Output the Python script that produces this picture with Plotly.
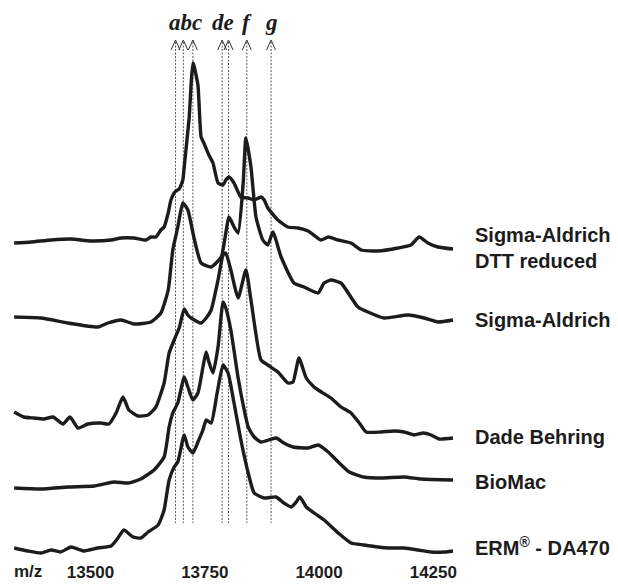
import plotly.graph_objects as go

# ---- data (m/z, relative intensity above each trace's own baseline) ----
mz_dtt = [13333, 13370, 13414, 13457, 13501, 13545, 13567, 13595, 13621, 13632, 13643, 13654, 13661,
          13670, 13676, 13683, 13687, 13694, 13702, 13705, 13711, 13716, 13720, 13724, 13726, 13735,
          13742, 13748, 13759, 13768, 13779, 13790, 13796, 13803, 13814, 13829, 13845, 13858, 13873,
          13880, 13888, 13910, 13932, 13954, 13976, 14004, 14020, 14042, 14070, 14092, 14129, 14173,
          14201, 14219, 14238, 14260, 14293]
int_dtt = [0, 1, 3, 4, 2, 3, 5, 5, 3, 6, 6, 13, 16,
           30, 43, 50, 52, 54, 63, 76, 103, 126, 158, 180, 178, 158,
           106, 100, 88, 80, 60, 58, 63, 66, 60, 46, 45, 43, 46,
           43, 35, 23, 16, 15, 12, 3, 6, 3, 0, -7, -8, -5,
           -2, 6, 0, -4, -6]

mz_sig = [13333, 13392, 13451, 13516, 13538, 13567, 13595, 13632, 13654, 13670, 13680, 13691, 13702,
          13713, 13726, 13742, 13764, 13786, 13803, 13814, 13823, 13834, 13840, 13851, 13862, 13877,
          13888, 13899, 13917, 13945, 13967, 13998, 14011, 14026, 14048, 14085, 14107, 14142, 14195,
          14230, 14260, 14293]
int_sig = [1, 0, -5, -9, -5, -2, -6, -4, 5, 28, 68, 91, 115,
           108, 81, 55, 51, 61, 101, 91, 85, 135, 180, 151, 101, 78,
           73, 86, 61, 35, 31, 25, 35, 38, 35, 11, 6, 0, 3,
           0, -4, -2]

mz_dade = [13333, 13354, 13376, 13398, 13418, 13440, 13455, 13473, 13494, 13523, 13540, 13556, 13571,
           13584, 13604, 13626, 13643, 13661, 13672, 13683, 13694, 13705, 13713, 13720, 13742, 13753,
           13764, 13779, 13790, 13796, 13807, 13823, 13840, 13851, 13873, 13888, 13910, 13932, 13943,
           13956, 13972, 13989, 13998, 14026, 14048, 14070, 14088, 14103, 14136, 14164, 14186, 14208,
           14228, 14245, 14263, 14293]
int_dade = [6, 1, 0, -1, 1, -6, 1, -10, -6, -5, -6, 5, 21,
            8, 2, 3, 11, 35, 65, 78, 90, 109, 103, 100, 95, 100,
            108, 138, 163, 165, 148, 120, 148, 118, 58, 53, 46, 35, 36,
            60, 40, 31, 28, 20, 11, 5, -5, -14, -14, -13, -14, -17,
            -15, -17, -21, -20]

mz_bio = [13333, 13392, 13451, 13508, 13551, 13582, 13610, 13639, 13661, 13672, 13680, 13691, 13705,
          13713, 13724, 13735, 13746, 13753, 13759, 13768, 13779, 13790, 13796, 13807, 13823, 13834,
          13845, 13858, 13873, 13906, 13923, 13943, 13976, 13998, 14020, 14042, 14066, 14098, 14136,
          14186, 14223, 14293]
int_bio = [0, -1, 1, 2, 6, 5, 9, 18, 31, 61, 75, 85, 111,
           101, 88, 95, 121, 136, 126, 115, 141, 186, 180, 158, 110, 83,
           61, 51, 46, 50, 45, 41, 40, 43, 36, 26, 16, 11, 10,
           11, 9, 8]

mz_erm = [13333, 13363, 13392, 13414, 13435, 13457, 13486, 13516, 13545, 13560, 13573, 13593, 13610,
          13626, 13648, 13661, 13672, 13683, 13691, 13705, 13713, 13724, 13735, 13746, 13753, 13764,
          13777, 13790, 13801, 13814, 13829, 13845, 13858, 13880, 13906, 13923, 13939, 13950, 13958,
          13972, 13989, 14011, 14042, 14070, 14098, 14129, 14153, 14186, 14217, 14245, 14274, 14293]
int_erm = [1, -2, -4, -1, -3, 2, -2, 1, 3, 11, 19, 12, 11,
           17, 24, 39, 69, 82, 87, 114, 102, 96, 107, 119, 129, 126,
           156, 184, 176, 146, 109, 76, 56, 51, 52, 46, 42, 47, 52,
           42, 36, 29, 16, 6, 4, 2, 1, 1, -1, -3, -3, -2]

sample_names = ["Sigma-Aldrich<br>DTT reduced", "Sigma-Aldrich", "Dade Behring", "BioMac",
                "ERM<sup>®</sup> - DA470"]
peak_mz = [13686, 13703, 13724, 13788, 13802, 13842, 13895]
peak_groups = ["abc", "de", "f", "g"]
peak_group_mz = [13707, 13790, 13842, 13897]
tick_vals = [13500, 13750, 14000, 14250]
tick_text = ["13500", "13750", "14000", "14250"]
axis_title = "m/z"

# ---- layout constants ----
W, H = 618, 584
MB = 24
offsets = [341, 266, 166, 96, 35]          # vertical stacking of spectra
label_y = [336, 264, 147, 102, 38]
label_x = 14337
XR = [13302, 14654]
YR = [MB, 584]
line_top, line_bot = 542, 61
chev_dx, chev_dy = 9.8, 10
ink = "#1c1c1c"
sans = "Liberation Sans, Arial, sans-serif"
serif = "Liberation Serif, Times New Roman, serif"

series = [(mz_dtt, int_dtt), (mz_sig, int_sig), (mz_dade, int_dade),
          (mz_bio, int_bio), (mz_erm, int_erm)]

fig = go.Figure()

# dotted peak markers
dx, dy = [], []
for p in peak_mz:
    dx += [p, p, None]
    dy += [line_top, line_bot, None]
fig.add_trace(go.Scatter(x=dx, y=dy, mode="lines", hoverinfo="skip",
                         line=dict(color="#444", width=0.9, dash="2px,1.5px"), showlegend=False))

# open arrowheads
cx, cy = [], []
for p in peak_mz:
    cx += [p - chev_dx, p, p + chev_dx, None]
    cy += [line_top + 2 - chev_dy, line_top + 2, line_top + 2 - chev_dy, None]
fig.add_trace(go.Scatter(x=cx, y=cy, mode="lines", hoverinfo="skip",
                         line=dict(color="#333", width=1), showlegend=False))

# spectra
for (mz, inten), off, name in zip(series, offsets, sample_names):
    fig.add_trace(go.Scatter(x=mz, y=[off + v for v in inten], mode="lines",
                             name=name.replace("<br>", " "),
                             line=dict(color=ink, width=3.4, shape="spline", smoothing=0.5),
                             showlegend=False))

ann = []
for name, ly in zip(sample_names, label_y):
    txt = "<b>" + name.replace("<br>", "</b><br><b>") + "</b>"
    ann.append(dict(x=label_x, y=ly, xref="x", yref="y", text=txt, showarrow=False,
                    xanchor="left", yanchor="middle", align="left",
                    font=dict(family=sans, size=20, color=ink)))
for g, gx in zip(peak_groups, peak_group_mz):
    ann.append(dict(x=gx, y=562, xref="x", yref="y", text="<b><i>%s</i></b>" % g, showarrow=False,
                    xanchor="center", yanchor="middle",
                    font=dict(family=serif, size=23, color=ink)))
# axis title placed in the bottom margin (paper coordinates, left of first tick)
ann.append(dict(x=28 / W, xref="paper", y=-(571 - (H - MB)) / (H - MB), yref="paper",
                text="<b>%s</b>" % axis_title, showarrow=False,
                xanchor="center", yanchor="middle",
                font=dict(family=sans, size=17, color=ink)))

fig.update_layout(
    width=W, height=H, margin=dict(l=0, r=0, t=0, b=MB, autoexpand=False),
    paper_bgcolor="white", plot_bgcolor="white",
    xaxis=dict(range=XR, showgrid=False, zeroline=False, showline=False, ticks="",
               automargin=False,
               tickvals=tick_vals, ticktext=["<b>%s</b>" % t for t in tick_text],
               tickfont=dict(family=sans, size=17, color=ink), fixedrange=True),
    yaxis=dict(range=YR, visible=False, fixedrange=True),
    annotations=ann,
)

fig.write_html("out.html", config={"displayModeBar": False},
               post_script="document.body.style.margin='0px';document.body.style.overflow='hidden';")
